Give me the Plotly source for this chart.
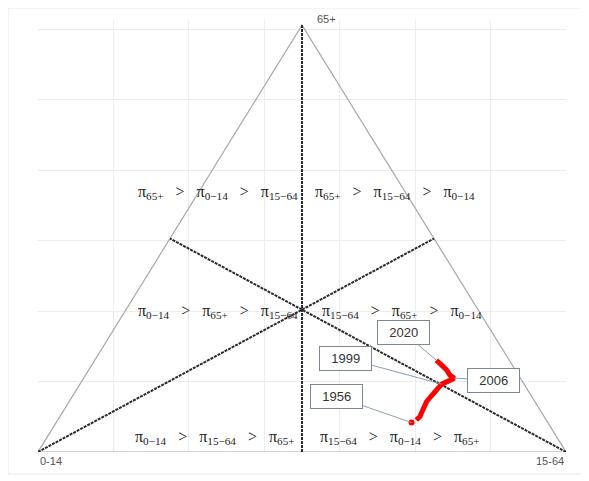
import math

import plotly.graph_objects as go

# 年齢3区分人口割合 (%) : 0-14 / 15-64 / 65+
years = [1956, 1965, 1970, 1975, 1980, 1985, 1990, 1995, 1999, 2003, 2006, 2010, 2013, 2016, 2020]
share_0_14 = [25.8, 24.6, 23.5, 22.5, 21.6, 20.5, 19.1, 17.3, 15.6, 14.0, 12.5, 13.0, 13.0, 13.4, 13.8]
share_15_64 = [67.3, 67.9, 68.2, 68.0, 67.8, 67.7, 67.9, 68.2, 68.5, 69.4, 70.2, 69.0, 67.8, 66.2, 64.7]
share_65 = [6.9, 7.5, 8.3, 9.5, 10.6, 11.8, 13.0, 14.5, 15.9, 16.6, 17.3, 18.0, 19.2, 20.4, 21.5]

# 吹き出しを付ける年と、その箱の位置 (点からのピクセル差)
label_years = [2020, 1999, 2006, 1956]
label_offsets = [(-33, -28), (-96, -26), (39, 2), (-75, -26)]

vertex_labels = ["0-14", "15-64", "65+"]

# 領域ラベル (大小関係)
SEP = "&nbsp;&nbsp;&nbsp;>&nbsp;&nbsp;&nbsp;"
region_texts = [
    SEP.join(["π<sub>65+</sub>", "π<sub>0−14</sub>", "π<sub>15−64</sub>"]),
    SEP.join(["π<sub>65+</sub>", "π<sub>15−64</sub>", "π<sub>0−14</sub>"]),
    SEP.join(["π<sub>0−14</sub>", "π<sub>65+</sub>", "π<sub>15−64</sub>"]),
    SEP.join(["π<sub>15−64</sub>", "π<sub>65+</sub>", "π<sub>0−14</sub>"]),
    SEP.join(["π<sub>0−14</sub>", "π<sub>15−64</sub>", "π<sub>65+</sub>"]),
    SEP.join(["π<sub>15−64</sub>", "π<sub>0−14</sub>", "π<sub>65+</sub>"]),
]

H = math.sqrt(3) / 2


def to_xy(a, b, c):
    """3成分の割合を三角図上の (x, y) に変換する"""
    total = a + b + c
    return (b + c / 2) / total, c * H / total


pts = [to_xy(a, b, c) for a, b, c in zip(share_0_14, share_15_64, share_65)]
xs = [p[0] for p in pts]
ys = [p[1] for p in pts]

fig = go.Figure()

# 三角形の外枠
fig.add_trace(go.Scatter(
    x=[0, 1, 0.5, 0], y=[0, 0, H, 0], mode="lines",
    line=dict(color="#a8a8a8", width=1.2), hoverinfo="skip",
))

# 中線 (各頂点から対辺の中点へ)
median_line = dict(color="#2a2a2a", width=2, dash="3px,1px")
for x0, y0, x1, y1 in [(0.5, H, 0.5, 0), (0, 0, 0.75, H / 2), (1, 0, 0.25, H / 2)]:
    fig.add_trace(go.Scatter(
        x=[x0, x1], y=[y0, y1], mode="lines", line=median_line, hoverinfo="skip",
    ))

# 推移
fig.add_trace(go.Scatter(
    x=xs[1:], y=ys[1:], mode="lines",
    line=dict(color="#ff0000", width=5), text=years[1:],
))
fig.add_trace(go.Scatter(
    x=xs[:1], y=ys[:1], mode="markers",
    marker=dict(color="#ff0000", size=6), text=years[:1],
))

for yr, (ax, ay) in zip(label_years, label_offsets):
    i = years.index(yr)
    fig.add_annotation(
        x=xs[i], y=ys[i], text=f"&nbsp;&nbsp;{yr}&nbsp;&nbsp;", showarrow=True,
        arrowhead=0, arrowwidth=1, arrowcolor="#8aa0b0", ax=ax, ay=ay, standoff=0,
        bordercolor="#7a8794", borderwidth=1, borderpad=4, bgcolor="white",
        font=dict(family="Liberation Sans", size=13, color="#333"),
    )

# 頂点ラベル
vfont = dict(family="Liberation Sans", size=11, color="#555")
fig.add_annotation(x=0, y=0, text=vertex_labels[0], showarrow=False,
                   xanchor="left", yanchor="top", yshift=-1, font=vfont)
fig.add_annotation(x=1, y=0, text=vertex_labels[1], showarrow=False,
                   xanchor="right", yanchor="top", yshift=-1, font=vfont)
fig.add_annotation(x=0.5, y=H, text=vertex_labels[2], showarrow=False,
                   xanchor="left", yanchor="middle", xshift=13, yshift=6, font=vfont)

# 領域ラベル
rfont = dict(family="Liberation Serif", size=16, color="#222")
region_pos = [
    (0.497, 0.527, "right"), (0.52, 0.527, "left"),
    (0.497, H / 3 - 0.003, "right"), (0.535, H / 3 - 0.003, "left"),
    (0.49, 0.03, "right"), (0.53, 0.03, "left"),
]
for text, (x, y, anchor) in zip(region_texts, region_pos):
    fig.add_annotation(x=x, y=y, text=text, showarrow=False,
                       xanchor=anchor, yanchor="middle", font=rfont)

# グラフエリアの枠
fig.add_shape(type="rect", xref="paper", yref="paper",
              x0=-0.0568, x1=1.0293, y0=-0.0509, y1=1.0278,
              line=dict(color="#e6e6e6", width=1))

grid = dict(showgrid=True, gridcolor="#ececec", gridwidth=1, zeroline=False,
            showticklabels=False, ticks="", showline=False, tick0=0, dtick=1 / 7)
fig.update_xaxes(range=[0, 1], **grid)
fig.update_yaxes(range=[0, 0.8763], **grid)

# ページ余白 (8px) 分だけ描画領域をずらす
fig.update_layout(
    width=589, height=481,
    margin=dict(l=30, r=31, t=12, b=37),
    plot_bgcolor="white", paper_bgcolor="white",
    showlegend=False,
)

fig.write_html("out.html")
